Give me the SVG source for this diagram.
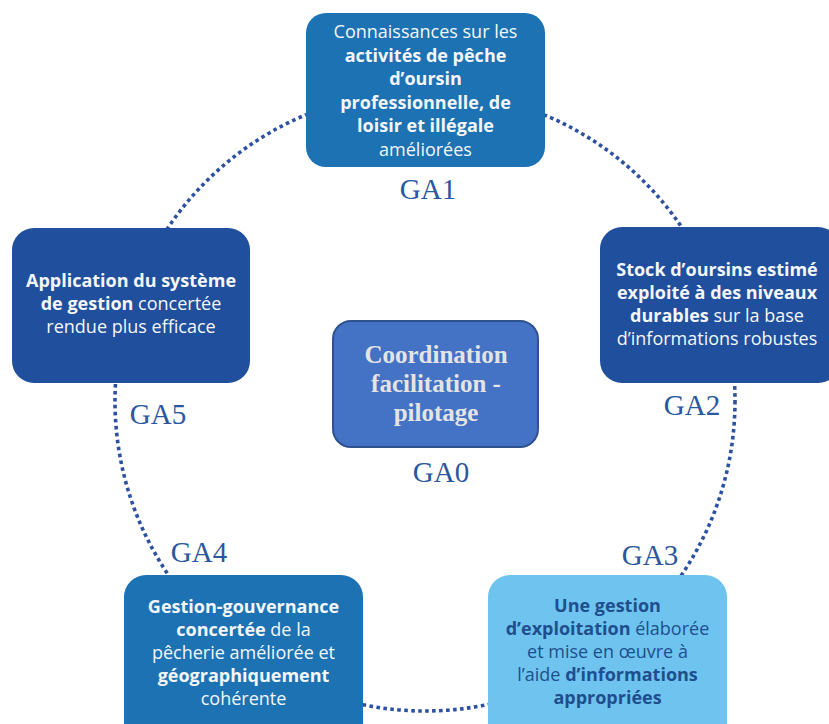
<svg xmlns="http://www.w3.org/2000/svg" width="829" height="724" viewBox="0 0 829 724">
<style>
.t{font-family:"Open Sans","Noto Sans",sans-serif;font-size:18px;text-anchor:middle;fill:#F4F6FA}
.b{font-weight:700}
.dk{fill:#1F4E8F}
.lbl{font-family:"Liberation Serif","DejaVu Serif",serif;font-size:29px;fill:#2B56A0;text-anchor:middle}
.c{font-family:"Liberation Serif","DejaVu Serif",serif;font-size:25px;font-weight:700;fill:#E4E4E4;text-anchor:middle}
</style>
<rect width="829" height="724" fill="#FFFFFF"/>
<g id="connectors">
<circle cx="425" cy="401" r="310" fill="none" stroke="#2C51A0" stroke-width="3.6" stroke-dasharray="3.6 3.4"/>
</g>
<g id="GA1">
<rect x="306" y="13" width="239" height="154" rx="20" fill="#1C72B3"/>
<text class="t" x="425.5" y="38">Connaissances sur les</text>
<text class="t b" x="425.5" y="61.5">activités de pêche</text>
<text class="t b" x="425.5" y="85">d’oursin</text>
<text class="t b" x="425.5" y="108.5">professionnelle, de</text>
<text class="t b" x="425.5" y="132">loisir et illégale</text>
<text class="t" x="425.5" y="155.5">améliorées</text>
<text class="lbl" x="428" y="199">GA1</text>
</g>
<g id="GA5">
<rect x="12" y="228" width="238" height="155" rx="22" fill="#1F4F9D"/>
<text class="t b" x="131" y="287">Application du système</text>
<text class="t" x="131" y="310"><tspan class="b">de gestion</tspan> concertée</text>
<text class="t" x="131" y="333">rendue plus efficace</text>
<text class="lbl" x="158" y="424">GA5</text>
</g>
<g id="GA2">
<rect x="600" y="227" width="240" height="156" rx="22" fill="#1F4F9D"/>
<text class="t b" x="717" y="276">Stock d’oursins estimé</text>
<text class="t b" x="717" y="299">exploité à des niveaux</text>
<text class="t" x="717" y="322"><tspan class="b">durables</tspan> sur la base</text>
<text class="t" x="717" y="345">d’informations robustes</text>
<text class="lbl" x="692" y="415">GA2</text>
</g>
<g id="GA4">
<rect x="124" y="575" width="239" height="170" rx="22" fill="#1C72B3"/>
<text class="t b" x="243.5" y="613">Gestion-gouvernance</text>
<text class="t" x="243.5" y="636"><tspan class="b">concertée</tspan> de la</text>
<text class="t" x="243.5" y="659">pêcherie améliorée et</text>
<text class="t b" x="243.5" y="682">géographiquement</text>
<text class="t" x="243.5" y="705">cohérente</text>
<text class="lbl" x="199" y="562">GA4</text>
</g>
<g id="GA3">
<rect x="488" y="575" width="239" height="170" rx="22" fill="#6EC4EE"/>
<text class="t b dk" x="607.5" y="612">Une gestion</text>
<text class="t dk" x="607.5" y="635"><tspan class="b">d’exploitation</tspan> élaborée</text>
<text class="t dk" x="607.5" y="658">et mise en œuvre à</text>
<text class="t dk" x="607.5" y="681">l’aide <tspan class="b">d’informations</tspan></text>
<text class="t b dk" x="607.5" y="704">appropriées</text>
<text class="lbl" x="650" y="565">GA3</text>
</g>
<g id="GA0">
<rect x="333" y="321" width="205" height="126" rx="18" fill="#4472C4" stroke="#2F528F" stroke-width="2"/>
<text class="c" x="436" y="363">Coordination</text>
<text class="c" x="436" y="392">facilitation -</text>
<text class="c" x="436" y="421">pilotage</text>
<text class="lbl" x="441" y="482">GA0</text>
</g>
</svg>
